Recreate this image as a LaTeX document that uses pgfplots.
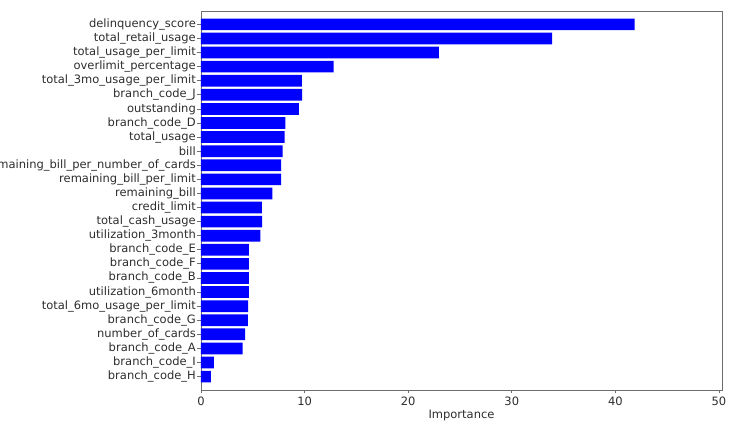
\documentclass[border=0pt]{standalone}
\usepackage{fontspec}
\setmainfont{DejaVu Sans}
\usepackage{pgfplots}
\pgfplotsset{compat=1.18}
\usepackage{pgfplotstable}

% feature importances, bottom (y=0) to top (y=25)
\pgfplotstableread{
y  imp
0  0.95
1  1.25
2  4.02
3  4.25
4  4.53
5  4.54
6  4.62
7  4.63
8  4.63
9  4.63
10 5.72
11 5.91
12 5.88
13 6.88
14 7.73
15 7.74
16 7.87
17 8.06
18 8.15
19 9.44
20 9.76
21 9.73
22 12.8
23 22.95
24 33.9
25 41.85
}\importance

\definecolor{framegray}{RGB}{110,110,110}
\definecolor{textgray}{RGB}{45,45,45}

\begin{document}
\begin{tikzpicture}[x=1pt,y=1pt]
\begin{axis}[
    at={(201pt,43pt)}, anchor=south west,
    scale only axis, width=521pt, height=379pt,
    xbar, bar width=11.7pt, bar shift=0pt,
    xmin=0, xmax=50.29,
    ymin=-0.95, ymax=25.95,
    xtick={0,10,...,50},
    ytick={0,...,25},
    yticklabels={
      branch\_code\_H, branch\_code\_I, branch\_code\_A, number\_of\_cards,
      branch\_code\_G, total\_6mo\_usage\_per\_limit, utilization\_6month,
      branch\_code\_B, branch\_code\_F, branch\_code\_E, utilization\_3month,
      total\_cash\_usage, credit\_limit, remaining\_bill,
      remaining\_bill\_per\_limit, remaining\_bill\_per\_number\_of\_cards,
      bill, total\_usage, branch\_code\_D, outstanding, branch\_code\_J,
      total\_3mo\_usage\_per\_limit, overlimit\_percentage,
      total\_usage\_per\_limit, total\_retail\_usage, delinquency\_score},
    tick align=outside, tick pos=left,
    major tick length=3.5pt,
    every tick/.style={framegray, line width=0.8pt},
    axis line style={framegray, line width=0.8pt},
    tick label style={font=\fontsize{11.5}{13.5}\selectfont, text=textgray},
    yticklabel style={inner sep=1.5pt},
    /pgf/number format/assume math mode=true,
    xlabel={Importance},
    xlabel style={font=\fontsize{11.5}{13.5}\selectfont, text=textgray, yshift=2pt},
    clip=false,
]
\addplot[fill=blue, draw=none] table[x=imp, y=y] {\importance};
\end{axis}
\pgfresetboundingbox
\useasboundingbox (0,0) rectangle (739,433);
\end{tikzpicture}
\end{document}
